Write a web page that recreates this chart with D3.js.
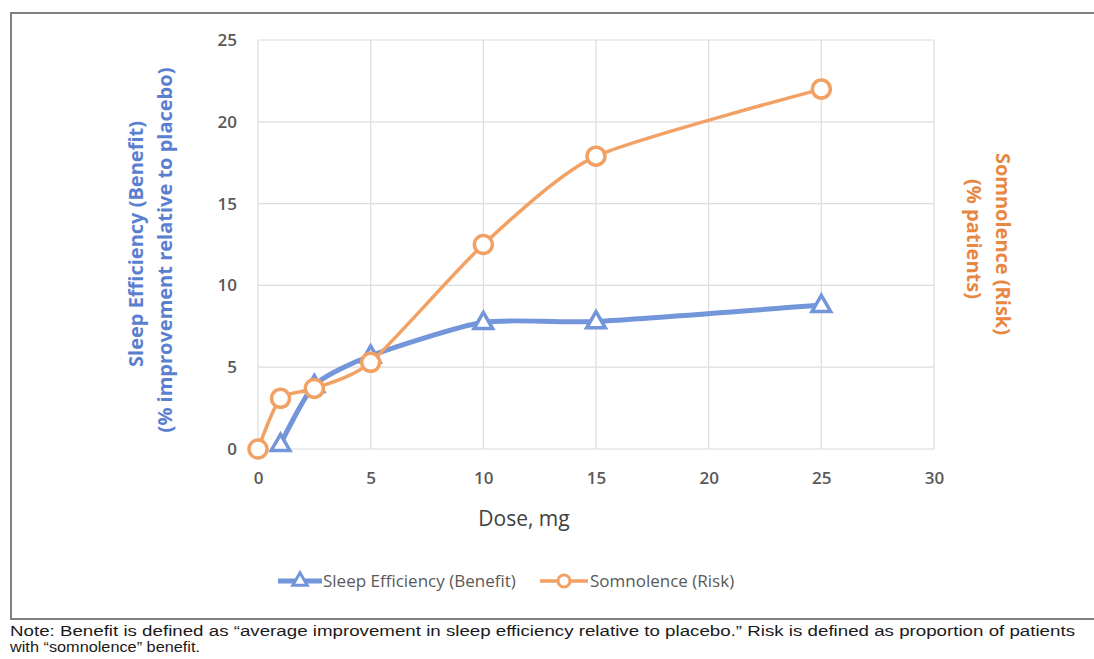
<!DOCTYPE html>
<html>
<head>
<meta charset="utf-8">
<script src="https://cdn.jsdelivr.net/npm/d3@7"></script>
<style>
  html, body { margin: 0; padding: 0; background: #fff; }
  svg { display: block; }
</style>
</head>
<body>
<svg id="chart" width="1094" height="659"></svg>
<script>
// Dose levels (mg) and the two response series
const doseBenefit = [1, 2.5, 5, 10, 15, 25];
const sleepEfficiency = [0.3, 3.9, 5.7, 7.75, 7.8, 8.8];
const doseRisk = [0, 1, 2.5, 5, 10, 15, 25];
const somnolence = [0, 3.1, 3.7, 5.3, 12.5, 17.9, 22.0];

const xTicks = [0, 5, 10, 15, 20, 25, 30];
const yTicks = [0, 5, 10, 15, 20, 25];

const seriesNames = ["Sleep Efficiency (Benefit)", "Somnolence (Risk)"];
const noteLines = [
  "Note: Benefit is defined as \u201caverage improvement in sleep efficiency relative to placebo.\u201d Risk is defined as proportion of patients",
  "with \u201csomnolence\u201d benefit."
];

const blue = "#7395d9";
const orange = "#f2a164";
const tickColor = "#595959";

const svg = d3.select("#chart");

// Outer frame (left, top, bottom edges)
svg.append("path")
  .attr("d", "M1094,13 H11 V619 H1094")
  .attr("fill", "none")
  .attr("stroke", "#808080")
  .attr("stroke-width", 2);

const x = d3.scaleLinear().domain([0, 30]).range([258, 934]);
const y = d3.scaleLinear().domain([0, 25]).range([449, 40]);

// Gridlines
const grid = svg.append("g").attr("stroke", "#dcdcdc").attr("stroke-width", 1.2);
grid.selectAll("line.h").data(yTicks).join("line")
  .attr("x1", x(0)).attr("x2", x(30))
  .attr("y1", d => y(d)).attr("y2", d => y(d));
grid.selectAll("line.v").data(xTicks).join("line")
  .attr("x1", d => x(d)).attr("x2", d => x(d))
  .attr("y1", y(0)).attr("y2", y(25));

// Axes (labels only; gridlines carry the structure)
const xAxis = svg.append("g")
  .attr("transform", `translate(0,${y(0)})`)
  .call(d3.axisBottom(x).tickValues(xTicks).tickSize(0).tickPadding(23));
const yAxis = svg.append("g")
  .attr("transform", `translate(${x(0)},0)`)
  .call(d3.axisLeft(y).tickValues(yTicks).tickSize(0).tickPadding(21));
[xAxis, yAxis].forEach(g => {
  g.select(".domain").remove();
  g.selectAll("text")
    .attr("fill", tickColor)
    .style("font-family", "'Open Sans', sans-serif")
    .style("font-size", "17px")
    .style("font-weight", "600");
});

// Axis titles
svg.append("text")
  .attr("x", 524).attr("y", 526)
  .attr("text-anchor", "middle")
  .attr("fill", "#404040")
  .style("font-family", "'Open Sans', sans-serif")
  .style("font-size", "21px")
  .text("Dose, mg");

const leftTitle = svg.append("text")
  .attr("transform", "rotate(-90)")
  .attr("text-anchor", "middle")
  .attr("fill", "#5b7fd0")
  .style("font-family", "'Open Sans', sans-serif")
  .style("font-size", "20px")
  .style("font-weight", "700");
leftTitle.append("tspan").attr("x", -244).attr("y", 143).text("Sleep Efficiency (Benefit)");
leftTitle.append("tspan").attr("x", -250).attr("y", 172).text("(% improvement relative to placebo)");

const rightTitle = svg.append("text")
  .attr("transform", "rotate(90)")
  .attr("text-anchor", "middle")
  .attr("fill", "#e8873f")
  .style("font-family", "'Open Sans', sans-serif")
  .style("font-size", "20px")
  .style("font-weight", "700");
rightTitle.append("tspan").attr("x", 244).attr("y", -996).text("Somnolence (Risk)");
rightTitle.append("tspan").attr("x", 239).attr("y", -967).text("(% patients)");

// Series
const line = d3.line()
  .x(d => x(d[0])).y(d => y(d[1]))
  .curve(d3.curveCardinal.tension(0.35));

const benefitPts = doseBenefit.map((d, i) => [d, sleepEfficiency[i]]);
const riskPts = doseRisk.map((d, i) => [d, somnolence[i]]);

const tri = d3.symbol().type(d3.symbolTriangle).size(150);

svg.append("path").datum(benefitPts)
  .attr("d", line)
  .attr("fill", "none").attr("stroke", blue).attr("stroke-width", 5)
  .attr("stroke-linejoin", "round");
svg.append("g").selectAll("path").data(benefitPts).join("path")
  .attr("d", tri)
  .attr("transform", d => `translate(${x(d[0])},${y(d[1]) + 1})`)
  .attr("fill", "#fff").attr("stroke", blue).attr("stroke-width", 3.5);

svg.append("path").datum(riskPts)
  .attr("d", line)
  .attr("fill", "none").attr("stroke", orange).attr("stroke-width", 3.5)
  .attr("stroke-linejoin", "round");
svg.append("g").selectAll("circle").data(riskPts).join("circle")
  .attr("cx", d => x(d[0])).attr("cy", d => y(d[1]))
  .attr("r", 9)
  .attr("fill", "#fff").attr("stroke", orange).attr("stroke-width", 3.5);

// Legend
const legend = svg.append("g").style("font-family", "'Open Sans', sans-serif");
const legendY = 581;
legend.append("line").attr("x1", 278).attr("x2", 322).attr("y1", legendY).attr("y2", legendY)
  .attr("stroke", blue).attr("stroke-width", 5);
legend.append("path").attr("d", d3.symbol().type(d3.symbolTriangle).size(90))
  .attr("transform", `translate(300,${legendY})`)
  .attr("fill", "#fff").attr("stroke", blue).attr("stroke-width", 3);
legend.append("text").attr("x", 323).attr("y", legendY + 6)
  .attr("fill", tickColor).style("font-size", "17px").text(seriesNames[0]);

legend.append("line").attr("x1", 540).attr("x2", 588).attr("y1", legendY).attr("y2", legendY)
  .attr("stroke", orange).attr("stroke-width", 3.5);
legend.append("circle").attr("cx", 564).attr("cy", legendY).attr("r", 6)
  .attr("fill", "#fff").attr("stroke", orange).attr("stroke-width", 3);
legend.append("text").attr("x", 590).attr("y", legendY + 6)
  .attr("fill", tickColor).style("font-size", "17px").text(seriesNames[1]);

// Footnote
svg.append("g").selectAll("text").data(noteLines).join("text")
  .attr("x", 10)
  .attr("y", (d, i) => 636 + i * 16)
  .attr("fill", "#1a1a1a")
  .style("font-family", "'Liberation Sans', Arial, sans-serif")
  .style("font-size", "14px")
  .attr("textLength", (d, i) => i === 0 ? 1065 : 190)
  .attr("lengthAdjust", "spacingAndGlyphs")
  .text(d => d);
</script>
</body>
</html>
